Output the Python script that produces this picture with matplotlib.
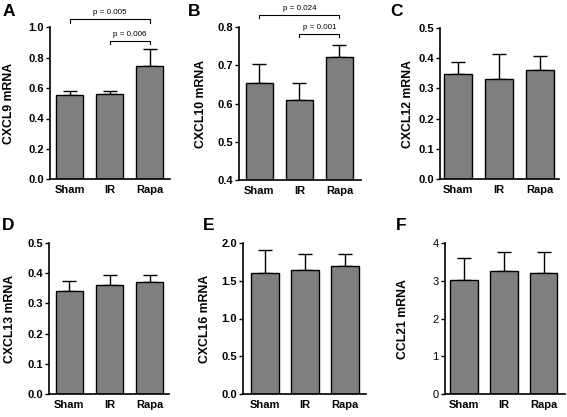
import matplotlib
matplotlib.use("Agg")
import matplotlib.pyplot as plt

plt.rcParams['font.family'] = ['Liberation Sans', 'DejaVu Sans']

categories = ['Sham', 'IR', 'Rapa']

cxcl9 = [0.555, 0.561, 0.746]
cxcl9_err = [0.024, 0.018, 0.109]
cxcl10 = [0.655, 0.610, 0.723]
cxcl10_err = [0.048, 0.045, 0.030]
cxcl12 = [0.347, 0.332, 0.360]
cxcl12_err = [0.040, 0.082, 0.048]
cxcl13 = [0.342, 0.359, 0.369]
cxcl13_err = [0.032, 0.036, 0.026]
cxcl16 = [1.596, 1.635, 1.688]
cxcl16_err = [0.312, 0.211, 0.163]
ccl21 = [3.013, 3.269, 3.216]
ccl21_err = [0.599, 0.493, 0.546]

panel_letters = ['A', 'B', 'C', 'D', 'E', 'F']
ylabels = ['CXCL9 mRNA', 'CXCL10 mRNA', 'CXCL12 mRNA', 'CXCL13 mRNA', 'CXCL16 mRNA', 'CCL21 mRNA']
yticks_list = [[0.0, 0.2, 0.4, 0.6, 0.8, 1.0],
               [0.4, 0.5, 0.6, 0.7, 0.8],
               [0.0, 0.1, 0.2, 0.3, 0.4, 0.5],
               [0.0, 0.1, 0.2, 0.3, 0.4, 0.5],
               [0.0, 0.5, 1.0, 1.5, 2.0],
               [0, 1, 2, 3, 4]]
ytick_fmt = ['{:.1f}', '{:.1f}', '{:.1f}', '{:.1f}', '{:.1f}', '{:.0f}']

# significance brackets
sig_panel = [0, 0, 1, 1]
sig_i = [0, 1, 0, 1]
sig_j = [2, 2, 2, 2]
sig_y = [1.053, 0.912, 0.832, 0.7825]
sig_label = ['p = 0.005', 'p = 0.006', 'p = 0.024', 'p = 0.001']

values = [cxcl9, cxcl10, cxcl12, cxcl13, cxcl16, ccl21]
errors = [cxcl9_err, cxcl10_err, cxcl12_err, cxcl13_err, cxcl16_err, ccl21_err]

W, H = 567, 417
fig = plt.figure(figsize=(W / 100, H / 100), dpi=100)

# axes boxes in pixels: left, right, top, bottom ; xlim
boxes = [(50, 170, 27.3, 179.3, (-0.49, 2.51)),
         (239.3, 361, 27.3, 180, (-0.5, 2.54)),
         (440, 559.3, 27.7, 179.3, (-0.45, 2.47)),
         (49, 169.3, 242.7, 394.3, (-0.51, 2.49)),
         (243.3, 366, 242.7, 394.3, (-0.55, 2.52)),
         (445, 565, 243, 394.3, (-0.48, 2.54))]
letter_pos = [(3, 12), (188, 12), (390, 12), (2, 226), (203, 226), (396, 226)]
ylabel_x = [9.5, 201, 408, 10, 204.5, 403]

axes = []
for k in range(6):
    l, r, t, b, xl = boxes[k]
    ax = fig.add_axes([l / W, 1 - b / H, (r - l) / W, (b - t) / H])
    axes.append(ax)
    x = list(range(len(categories)))
    ax.bar(x, values[k], width=0.69, color='#7f7f7f', edgecolor='black', linewidth=1.0, zorder=2)
    ax.errorbar(x, values[k], yerr=[[0] * 3, errors[k]], fmt='none', ecolor='black',
                elinewidth=1.0, capsize=5, capthick=1.0, zorder=1)
    yt = yticks_list[k]
    ax.set_ylim(yt[0], yt[-1])
    ax.set_xlim(*xl)
    ax.set_yticks(yt)
    tick_weight = 'normal' if k == 5 else 'bold'
    ax.set_yticklabels([ytick_fmt[k].format(v) for v in yt], fontsize=8, fontweight=tick_weight)
    ax.set_xticks(x)
    ax.set_xticklabels(categories, fontsize=8, fontweight='bold')
    ax.tick_params(axis='x', length=0, pad=4)
    ax.tick_params(axis='y', length=3, width=1.0, pad=1.5, direction='out')
    for s in ['top', 'right']:
        ax.spines[s].set_visible(False)
    for s in ['left', 'bottom']:
        ax.spines[s].set_linewidth(1.2)
    fig.text(ylabel_x[k] / W, 1 - ((t + b) / 2) / H, ylabels[k], rotation=90,
             ha='center', va='center', fontsize=8.8, fontweight='bold')
    fig.text(letter_pos[k][0] / W, 1 - letter_pos[k][1] / H, panel_letters[k],
             ha='left', va='center', fontsize=12.5, fontweight='bold')

for p, i, j, y, lab in zip(sig_panel, sig_i, sig_j, sig_y, sig_label):
    ax = axes[p]
    ylo, yhi = ax.get_ylim()
    d = (yhi - ylo) * 0.022
    ax.plot([i, i, j, j], [y - d, y, y, y - d], color='black', linewidth=0.8, clip_on=False)
    ax.annotate(lab, xy=((i + j) / 2, y), xytext=(0, 2), textcoords='offset points',
                ha='center', va='bottom', fontsize=5.8, annotation_clip=False)

fig.savefig('out.png', dpi=100)
